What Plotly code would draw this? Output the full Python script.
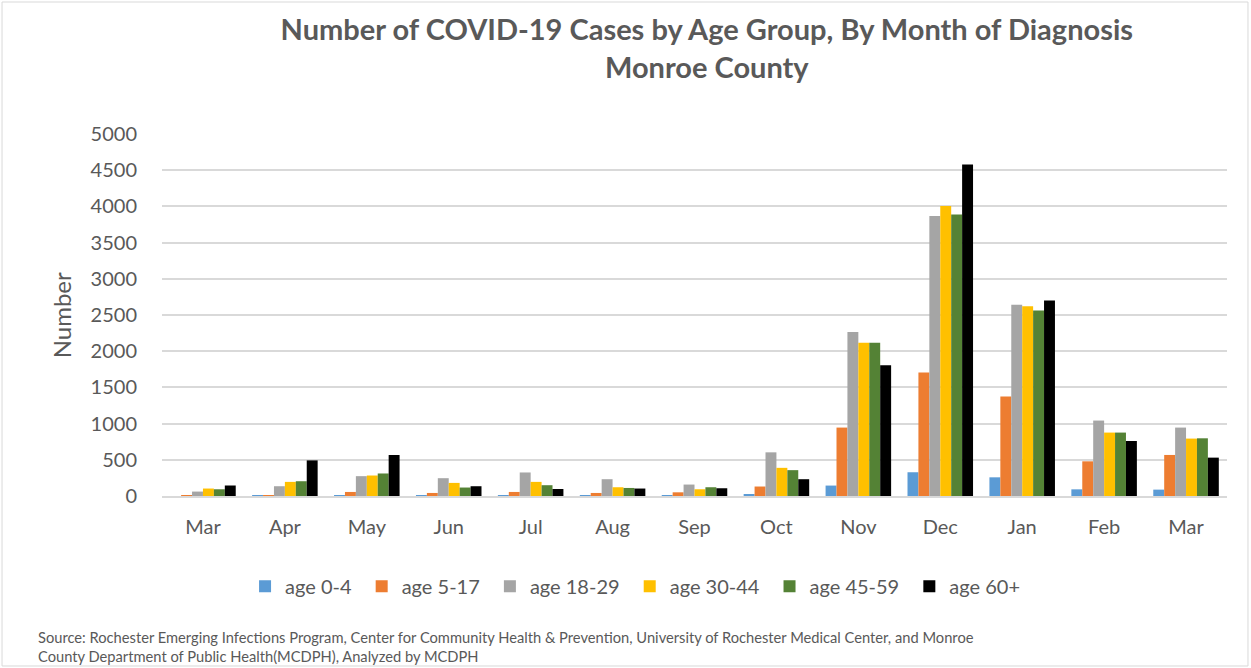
import plotly.graph_objects as go

months = ["Mar", "Apr", "May", "Jun", "Jul", "Aug", "Sep", "Oct", "Nov", "Dec", "Jan", "Feb", "Mar"]
age_0_4 = [0, 2, 3, 2, 10, 3, 3, 24, 144, 328, 258, 92, 88]
age_5_17 = [3, 5, 56, 42, 56, 42, 51, 131, 945, 1705, 1373, 479, 567]
age_18_29 = [61, 135, 274, 246, 325, 232, 158, 603, 2266, 3866, 2640, 1042, 945]
age_30_44 = [103, 195, 283, 181, 195, 121, 93, 389, 2115, 4004, 2622, 876, 793]
age_45_59 = [93, 204, 311, 117, 149, 111, 121, 357, 2115, 3889, 2562, 876, 797]
age_60_plus = [145, 492, 566, 135, 97, 103, 107, 232, 1806, 4580, 2700, 760, 530]

series = [
    ("age 0-4", age_0_4, "#5B9BD5"),
    ("age 5-17", age_5_17, "#ED7D31"),
    ("age 18-29", age_18_29, "#A5A5A5"),
    ("age 30-44", age_30_44, "#FFC000"),
    ("age 45-59", age_45_59, "#548235"),
    ("age 60+", age_60_plus, "#000000"),
]

x_idx = list(range(len(months)))
font_family = "Lato, 'Open Sans', sans-serif"
txt = "#595959"
pad = "\u00a0"

fig = go.Figure()
for name, vals, col in series:
    fig.add_trace(go.Bar(x=x_idx, y=vals, name=name + pad, marker=dict(color=col, line=dict(width=0)),
                         hovertemplate=name + ": %{y}<extra></extra>"))

fig.update_layout(
    width=1251, height=668,
    paper_bgcolor="white", plot_bgcolor="white",
    margin=dict(l=162, r=24, t=134, b=172),
    barmode="group", bargap=0.2, bargroupgap=0,
    font=dict(family=font_family, color=txt, size=20),
    title=dict(text="<b>Number of COVID-19 Cases by Age Group, By Month of Diagnosis<br>Monroe County</b>",
               x=0.565, xref="container", xanchor="center", y=0.94, yanchor="top",
               font=dict(size=29, color=txt, family=font_family)),
    legend=dict(orientation="h", x=0.447, xanchor="center", y=-0.249, yanchor="middle",
                font=dict(size=20, color=txt), itemwidth=30, traceorder="normal"),
    showlegend=True,
)
fig.update_xaxes(tickvals=x_idx, ticktext=months, range=[-0.5, len(months) - 0.5],
                 showgrid=False, showline=True, linecolor="#D9D9D9", linewidth=1.5,
                 ticks="outside", ticklen=12, tickcolor="rgba(0,0,0,0)",
                 tickfont=dict(size=20, color=txt), zeroline=False)
fig.update_yaxes(range=[0, 5000], dtick=500, showgrid=True, gridcolor="#D9D9D9", gridwidth=1.5,
                 zeroline=False, showline=False, ticks="outside", ticklen=20, tickcolor="rgba(0,0,0,0)",
                 tickfont=dict(size=20, color=txt))

fig.add_annotation(text="Number", x=-0.11, y=0.5, xref="paper", yref="paper", textangle=-90,
                   showarrow=False, font=dict(size=24, color=txt))
fig.add_annotation(text="Source: Rochester Emerging Infections Program, Center for Community Health &amp; Prevention, University of Rochester Medical Center, and Monroe<br>County Department of Public Health(MCDPH), Analyzed by MCDPH",
                   x=-0.118, y=-0.36, xref="paper", yref="paper", xanchor="left", yanchor="top",
                   align="left", showarrow=False, font=dict(size=14.7, color=txt))
fig.add_shape(type="rect", xref="paper", yref="paper", x0=-0.1502, x1=1.0197, y0=-0.4696, y1=1.3646,
              line=dict(color="#D9D9D9", width=1), fillcolor="rgba(0,0,0,0)", layer="below")

fig.write_html("out.html", config={"displayModeBar": False},
               post_script="document.body.style.margin='0';")
